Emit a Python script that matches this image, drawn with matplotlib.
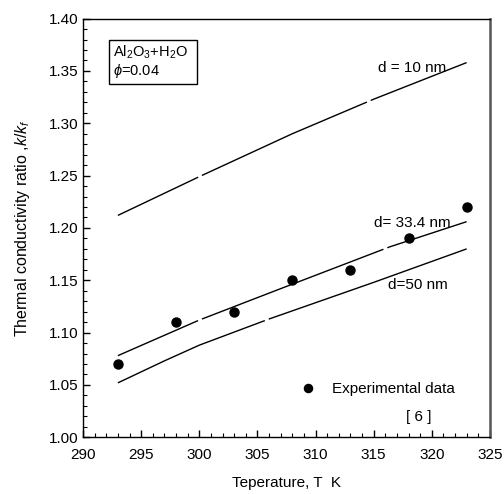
import matplotlib
matplotlib.use("Agg")
import matplotlib.pyplot as plt
from matplotlib.ticker import MultipleLocator, FormatStrFormatter

plt.rcParams['font.family'] = ['Liberation Sans', 'DejaVu Sans']
plt.rcParams['mathtext.fontset'] = 'custom'
plt.rcParams['mathtext.rm'] = 'Liberation Sans'
plt.rcParams['mathtext.it'] = 'Liberation Sans:italic'

# Model curves (temperature K -> k/kf)
T_d10 = [293, 300, 308, 315, 323]
k_d10 = [1.212, 1.249, 1.290, 1.323, 1.358]

T_d33 = [293, 300, 307, 316.4, 323]
k_d33 = [1.078, 1.112, 1.142, 1.182, 1.206]

T_d50 = [293, 297, 300, 306, 315, 323]
k_d50 = [1.052, 1.073, 1.088, 1.113, 1.148, 1.180]

# Experimental data [6]
T_exp = [293, 298, 303, 308, 313, 318, 323]
k_exp = [1.07, 1.11, 1.12, 1.15, 1.16, 1.19, 1.22]

xticks = [290, 295, 300, 305, 310, 315, 320, 325]
yticks = [1.00, 1.05, 1.10, 1.15, 1.20, 1.25, 1.30, 1.35, 1.40]

fig = plt.figure(figsize=(5.04, 4.94), dpi=100)
ax = fig.add_axes([0.1647, 0.1148, 0.8073, 0.8475])

ax.plot(T_d10, k_d10, color='black', lw=1.0, linestyle=(66, (130, 3)))
ax.plot(T_d33, k_d33, color='black', lw=1.0, linestyle=(77, (140, 3)))
ax.plot(T_d50, k_d50, color='black', lw=1.0, linestyle=(85, (200, 3)))
ax.plot(T_exp, k_exp, linestyle='none', marker='o', color='black', ms=6.5,
        label='Experimental data')

ax.set_xlim(290, 325)
ax.set_ylim(1.00, 1.40)
ax.set_xticks(xticks)
ax.set_yticks(yticks)
ax.yaxis.set_major_formatter(FormatStrFormatter('%.2f'))
ax.xaxis.set_minor_locator(MultipleLocator(1))
ax.yaxis.set_minor_locator(MultipleLocator(0.01))
ax.tick_params(which='both', direction='in', top=False, right=False, labelsize=11)
ax.tick_params(which='major', length=5, width=1)
ax.tick_params(which='minor', length=3, width=0.8)
ax.tick_params(axis='x', which='major', pad=8)
for s in ['left', 'bottom', 'top']:
    ax.spines[s].set_linewidth(1.0)
ax.spines['right'].set_linewidth(1.8)
ax.spines['right'].set_color('#555555')

ax.set_xlabel('Teperature, T  K', fontsize=11, labelpad=10)
ax.set_ylabel('Thermal conductivity ratio ,$k/k_f$', fontsize=11.5, labelpad=12)

ax.text(315.4, 1.353, 'd = 10 nm', fontsize=11, va='center', ha='left')
ax.text(315.0, 1.205, 'd= 33.4 nm', fontsize=11, va='center', ha='left')
ax.text(316.2, 1.1455, 'd=50 nm', fontsize=11, va='center', ha='left')

ax.text(292.6, 1.3585, 'Al$_2$O$_3$+H$_2$O  \n$\\phi$=0.04', fontsize=10.5,
        va='center', ha='left', linespacing=1.05,
        bbox=dict(boxstyle='square,pad=0.3', fc='white', ec='black', lw=1.0))

leg = ax.legend(loc='center left', bbox_to_anchor=(0.50, 0.115), frameon=False,
                fontsize=11, handletextpad=1.1, handlelength=1.0, markerscale=0.9)
ax.text(318.9, 1.019, '[ 6 ]', fontsize=11, va='center', ha='center')

fig.savefig('out.png', dpi=100)
